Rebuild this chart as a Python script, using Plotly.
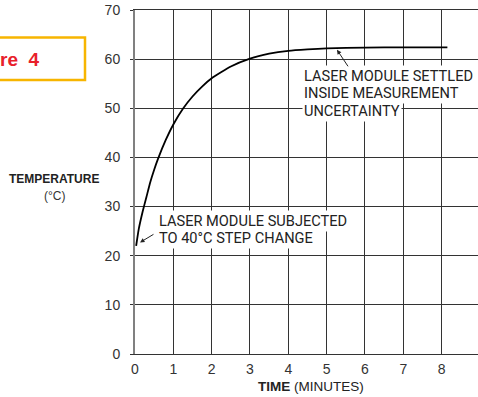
import plotly.graph_objects as go

# Step response of the laser module after a 40 °C step
time_min = [0.03, 0.1, 0.2, 0.3, 0.4, 0.5, 0.6, 0.8, 1.0, 1.25, 1.5, 1.75,
            2.0, 2.5, 3.0, 3.5, 4.0, 4.5, 5.0, 6.0, 7.0, 8.15]
temp_c = [22.0, 25.5, 29.0, 32.0, 35.0, 37.5, 39.7, 43.5, 46.7, 49.9, 52.4, 54.4,
          56.1, 58.5, 60.1, 61.1, 61.7, 62.0, 62.2, 62.35, 62.4, 62.4]

x_ticks = [0, 1, 2, 3, 4, 5, 6, 7, 8]
y_ticks = [0, 10, 20, 30, 40, 50, 60, 70]

W, H = 478, 397
L, T, B = 135, 10, 42.5
pw, ph = W - L, H - T - B

def px_x(px):
    return (px - L) / pw

def px_y(py):
    return (H - B - py) / ph

LABEL = "Roboto, Liberation Sans, Arial"
SANS = "Liberation Sans, Arial, sans-serif"
GRID = "#333333"

fig = go.Figure()
fig.add_trace(go.Scatter(
    x=time_min, y=temp_c, mode="lines",
    line=dict(color="black", width=1.8, shape="spline", smoothing=0.5),
    hoverinfo="skip", showlegend=False,
))

annotations = []

# annotation blocks, one line of text each so the leading stays tight
def text_lines(lines, x, y_first, step):
    for i, s in enumerate(lines):
        annotations.append(dict(
            x=x, y=y_first - i * step, xref="x", yref="y",
            text=s, showarrow=False, xanchor="left", yanchor="middle",
            font=dict(family=LABEL, size=14.6, color="#222222"),
            bgcolor="white", borderpad=1,
        ))

text_lines(["LASER MODULE SUBJECTED", "TO 40°C STEP CHANGE"], 0.574, 27.1, 3.4)
text_lines(["LASER MODULE SETTLED", "INSIDE MEASUREMENT", "UNCERTAINTY"], 4.35, 56.65, 3.55)

# leader arrows
annotations.append(dict(x=0.13, y=22.7, xref="x", yref="y", text="", showarrow=True,
                        ax=15, ay=-9, arrowhead=2, arrowsize=0.9, arrowwidth=1,
                        arrowcolor="#222222"))
annotations.append(dict(x=5.27, y=61.9, xref="x", yref="y", text="", showarrow=True,
                        ax=12, ay=18, arrowhead=2, arrowsize=0.9, arrowwidth=1,
                        arrowcolor="#222222"))

# axis titles
annotations.append(dict(x=px_x(54), y=px_y(179), xref="paper", yref="paper",
                        text="<b>TEMPERATURE</b>", showarrow=False,
                        xanchor="center", yanchor="middle",
                        font=dict(family=SANS, size=12, color="#222222")))
annotations.append(dict(x=px_x(54), y=px_y(196.5), xref="paper", yref="paper",
                        text="(°C)", showarrow=False,
                        xanchor="center", yanchor="middle",
                        font=dict(family=SANS, size=12, color="#333333")))
annotations.append(dict(x=4.59, y=px_y(387.5), xref="x", yref="paper",
                        text="<b>TIME</b> (MINUTES)", showarrow=False,
                        xanchor="center", yanchor="middle",
                        font=dict(family=SANS, size=13.5, color="#222222")))
# last time tick, beyond the visible edge
annotations.append(dict(x=9, y=px_y(369.5), xref="x", yref="paper",
                        text="9", showarrow=False, xanchor="center", yanchor="middle",
                        font=dict(family=SANS, size=14, color="#333333")))

# figure tag
annotations.append(dict(x=px_x(42), y=px_y(60), xref="paper", yref="paper",
                        text="<b>Figure&nbsp; 4</b>", showarrow=False,
                        xanchor="right", yanchor="middle",
                        font=dict(family=SANS, size=19, color="#e8202a")))

shapes = [dict(type="rect", xref="paper", yref="paper",
               x0=px_x(-4), x1=px_x(85), y0=px_y(80), y1=px_y(37.5),
               line=dict(color="#f7b500", width=2.5), fillcolor="white", layer="below")]

fig.update_layout(
    width=W, height=H,
    margin=dict(l=L, r=0, t=T, b=B),
    paper_bgcolor="white", plot_bgcolor="white",
    xaxis=dict(range=[0, pw / 38.33], tickvals=x_ticks, ticktext=[str(v) for v in x_ticks],
               showgrid=True, gridcolor=GRID, gridwidth=1,
               showline=True, linecolor=GRID, linewidth=1, mirror=True,
               ticks="", zeroline=False, ticklabelstandoff=2,
               tickfont=dict(family=SANS, size=14, color="#333333")),
    yaxis=dict(range=[0, 70], tickvals=y_ticks,
               showgrid=True, gridcolor=GRID, gridwidth=1,
               showline=True, linecolor="#808080", linewidth=2,
               ticks="outside", ticklen=3, tickcolor=GRID,
               zeroline=False, ticklabelstandoff=7,
               tickfont=dict(family=SANS, size=14, color="#333333")),
    annotations=annotations,
    shapes=shapes,
    showlegend=False,
)

fig.write_html("out.html")
